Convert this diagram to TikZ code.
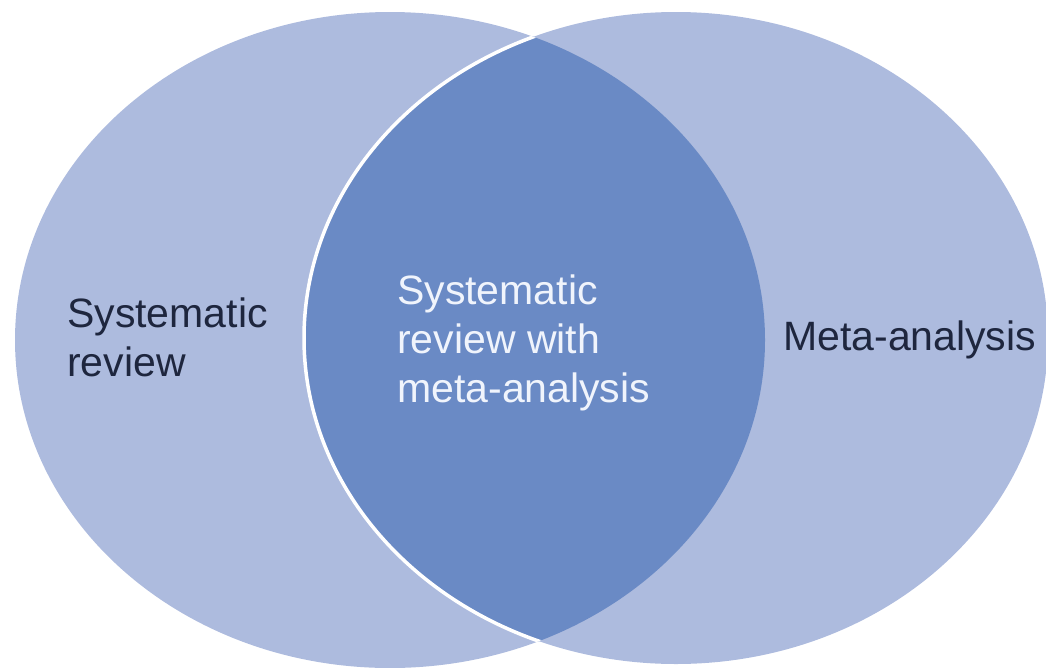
\documentclass[tikz,border=0pt]{standalone}
\usepackage{fontspec}
\setmainfont{Liberation Sans}
\definecolor{lightfill}{RGB}{173,187,222}
\definecolor{darkfill}{RGB}{106,138,197}
\definecolor{labeltext}{RGB}{30,38,62}
\definecolor{innertext}{RGB}{240,244,252}
\tikzset{
  setlabel/.style={inner sep=0pt, align=left, anchor=base west, font=\fontsize{41}{49}\selectfont},
}
\begin{document}
\begin{tikzpicture}[x=1pt,y=-1pt]
\useasboundingbox (0,0) rectangle (1046,667);
% sets
\fill[lightfill] (390,340) ellipse [x radius=375pt, y radius=328pt];
\fill[lightfill] (676,338) ellipse [x radius=372pt, y radius=326pt];
\begin{scope}
  \clip (390,340) ellipse [x radius=375pt, y radius=328pt];
  \fill[darkfill] (676,338) ellipse [x radius=372pt, y radius=326pt];
  \draw[white, line width=3.5pt] (676,338) ellipse [x radius=372pt, y radius=326pt];
\end{scope}
% labels (base anchor = baseline of the last line)
\node[setlabel, text=labeltext] (sr) at (67,376) {Systematic\\review};
\node[setlabel, text=innertext] (srma) at (397,402) {Systematic\\review with\\meta-analysis};
\node[setlabel, text=labeltext] (ma) at (783,350) {Meta-analysis};
\end{tikzpicture}
\end{document}
